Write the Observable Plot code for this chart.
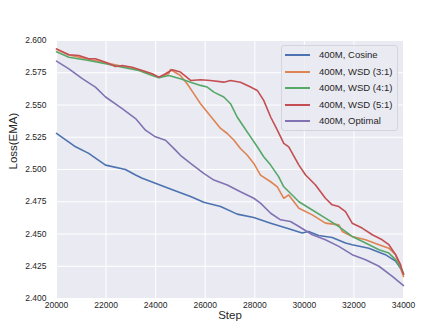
<!DOCTYPE html>
<html>
<head>
<meta charset="utf-8">
<script src="https://cdn.jsdelivr.net/npm/d3@7"></script>
<script src="https://cdn.jsdelivr.net/npm/@observablehq/plot@0.6"></script>
<style>
  body { margin: 0; background: white; font-family: "Liberation Sans", Arial, sans-serif; }
  #wrap { position: relative; width: 448px; height: 336px; }
  #legend { position: absolute; left: 281px; top: 45px; width: 117px; height: 86px;
    box-sizing: border-box; border: 1px solid #d4d4dc; border-radius: 3px;
    background: rgba(234,234,242,0.8); font-size: 9.5px; color: #262626; }
  .row { position: absolute; left: 0; height: 12px; width: 100%; }
  .sw { position: absolute; left: 3px; width: 25px; height: 2px; top: 5px; }
  .lb { position: absolute; left: 37px; top: 0; white-space: nowrap; line-height: 12px; }
</style>
</head>
<body>
<div id="wrap"><div id="chart"></div><div id="legend"></div></div>
<script>
const seriesNames = ["400M, Cosine", "400M, WSD (3:1)", "400M, WSD (4:1)", "400M, WSD (5:1)", "400M, Optimal"];
const seriesColors = ["#4C72B0", "#DD8452", "#55A868", "#C44E52", "#8172B3"];
const xTicks = [20000, 22000, 24000, 26000, 28000, 30000, 32000, 34000];
const yTicks = [2.400, 2.425, 2.450, 2.475, 2.500, 2.525, 2.550, 2.575, 2.600];

const cosineStep = [20000, 20770, 21300, 21980, 22780, 23190, 23460, 23990, 24730, 25410, 25940, 26620, 27290, 27960, 28640, 29370, 29910, 30170, 30580, 31120, 31660, 31930, 32600, 33270, 33680, 33950, 34000];
const cosineLoss = [2.528, 2.5176, 2.5125, 2.5034, 2.500, 2.4957, 2.4932, 2.4893, 2.484, 2.479, 2.4746, 2.4713, 2.4654, 2.4628, 2.4584, 2.454, 2.4507, 2.452, 2.4489, 2.4473, 2.443, 2.4417, 2.439, 2.434, 2.429, 2.4214, 2.419];

const wsd31Step = [20000, 20500, 21300, 21980, 22650, 23460, 23860, 24130, 24530, 24600, 25000, 25270, 25540, 25810, 26080, 26350, 26620, 26890, 27160, 27420, 27690, 27960, 28230, 28640, 28910, 29170, 29370, 29780, 30320, 30850, 31390, 31530, 31930, 32470, 33010, 33410, 33680, 33950, 34000];
const wsd31Loss = [2.5932, 2.5888, 2.5855, 2.5828, 2.5800, 2.5765, 2.5738, 2.5714, 2.5745, 2.5775, 2.5729, 2.5665, 2.5588, 2.551, 2.5446, 2.5382, 2.5318, 2.5279, 2.5227, 2.5163, 2.5112, 2.5047, 2.4957, 2.4905, 2.4866, 2.4777, 2.4803, 2.470, 2.4648, 2.4584, 2.4571, 2.452, 2.4481, 2.4455, 2.4417, 2.439, 2.434, 2.4198, 2.417];

const wsd41Step = [20000, 20500, 21300, 21980, 22650, 23320, 23860, 24130, 24530, 25000, 25410, 25810, 26080, 26350, 26750, 27020, 27290, 27560, 27830, 28100, 28360, 28640, 28960, 29170, 29780, 30320, 30850, 31390, 31930, 32470, 33010, 33410, 33680, 33950, 34000];
const wsd41Loss = [2.5912, 2.587, 2.5845, 2.582, 2.5793, 2.5768, 2.5729, 2.5711, 2.5729, 2.5704, 2.5677, 2.5652, 2.5639, 2.5600, 2.5562, 2.551, 2.5407, 2.533, 2.5253, 2.5176, 2.5099, 2.5034, 2.4945, 2.4866, 2.475, 2.4686, 2.4623, 2.4558, 2.4481, 2.443, 2.4378, 2.4352, 2.4301, 2.4216, 2.419];

const wsd51Step = [20000, 20500, 20900, 21300, 21570, 21980, 22380, 22650, 23050, 23460, 23860, 24130, 24400, 24670, 25000, 25410, 25810, 26210, 26750, 27020, 27420, 27830, 28100, 28360, 28640, 28910, 29170, 29370, 29780, 30050, 30450, 30850, 31120, 31390, 31660, 31930, 32330, 32740, 33140, 33410, 33680, 33880, 33950, 34000];
const wsd51Loss = [2.5935, 2.589, 2.5884, 2.5858, 2.5858, 2.5832, 2.5799, 2.5806, 2.5793, 2.5768, 2.5742, 2.5716, 2.5742, 2.5773, 2.5755, 2.569, 2.5696, 2.569, 2.5677, 2.569, 2.5677, 2.5639, 2.5613, 2.5536, 2.5407, 2.5305, 2.5202, 2.5176, 2.5034, 2.4957, 2.488, 2.4777, 2.4726, 2.4713, 2.4674, 2.4584, 2.4546, 2.4494, 2.4455, 2.4417, 2.434, 2.4263, 2.4211, 2.419];

const optimalStep = [20000, 20500, 21040, 21570, 21980, 22650, 23190, 23590, 23990, 24400, 24800, 25000, 25410, 25940, 26350, 26890, 27420, 27960, 28230, 28640, 29040, 29440, 29780, 30320, 30850, 31390, 31930, 32470, 33010, 33550, 33950, 34000];
const optimalLoss = [2.584, 2.578, 2.5704, 2.5639, 2.5562, 2.5472, 2.5395, 2.5305, 2.5253, 2.5227, 2.515, 2.511, 2.5047, 2.497, 2.4918, 2.488, 2.4828, 2.4777, 2.4739, 2.4661, 2.461, 2.4597, 2.4558, 2.4494, 2.4455, 2.4404, 2.434, 2.4301, 2.425, 2.4172, 2.4108, 2.410];

const stepsList = [cosineStep, wsd31Step, wsd41Step, wsd51Step, optimalStep];
const lossList = [cosineLoss, wsd31Loss, wsd41Loss, wsd51Loss, optimalLoss];

const rows = [];
seriesNames.forEach((name, i) => {
  stepsList[i].forEach((s, j) => rows.push({series: name, step: s, loss: lossList[i][j]}));
});

const chart = Plot.plot({
  width: 448,
  height: 336,
  marginLeft: 56,
  marginRight: 45,
  marginTop: 40,
  marginBottom: 38,
  style: {fontFamily: "'Liberation Sans', Arial, sans-serif", fontSize: "8.5px", background: "white", color: "#262626"},
  x: {domain: [20000, 34000]},
  y: {domain: [2.4, 2.6]},
  color: {domain: seriesNames, range: seriesColors},
  marks: [
    Plot.frame({fill: "#EAEAF2", stroke: null}),
    Plot.gridX(xTicks, {stroke: "white", strokeOpacity: 1, strokeWidth: 1}),
    Plot.gridY(yTicks, {stroke: "white", strokeOpacity: 1, strokeWidth: 1}),
    Plot.axisX(xTicks, {tickSize: 0, tickPadding: 3, tickFormat: d => String(d), label: null, fontSize: 8.5}),
    Plot.axisY(yTicks, {tickSize: 0, tickPadding: 10, tickFormat: d3.format(".3f"), label: null, fontSize: 8.5}),
    Plot.text(["Step"], {frameAnchor: "bottom", dy: 17, fontSize: 11.5, lineAnchor: "middle"}),
    Plot.text(["Loss(EMA)"], {frameAnchor: "left", dx: -43, rotate: -90, fontSize: 11.5, lineAnchor: "middle"}),
    Plot.line(rows, {x: "step", y: "loss", z: "series", stroke: "series", strokeWidth: 1.6, curve: "linear"})
  ]
});
document.getElementById("chart").appendChild(chart);

const legend = document.getElementById("legend");
const rowTops = [3, 20, 36, 53, 69];
seriesNames.forEach((name, i) => {
  const r = document.createElement("div");
  r.className = "row";
  r.style.top = rowTops[i] + "px";
  const sw = document.createElement("div");
  sw.className = "sw";
  sw.style.background = seriesColors[i];
  const lb = document.createElement("div");
  lb.className = "lb";
  lb.textContent = name;
  r.appendChild(sw);
  r.appendChild(lb);
  legend.appendChild(r);
});
</script>
</body>
</html>
